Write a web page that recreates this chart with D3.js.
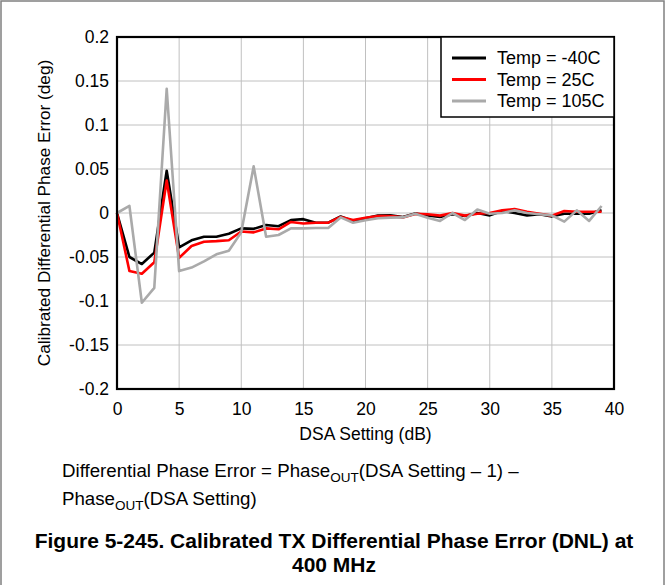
<!DOCTYPE html>
<html><head><meta charset="utf-8">
<script src="https://cdn.jsdelivr.net/npm/d3@7"></script>
<style>body{margin:0;background:#fff}svg{display:block}text{font-family:"Liberation Sans",Arial,sans-serif}</style>
</head><body><svg id="c" width="666" height="585"></svg>
<script>
const dsa = d3.range(0, 40);
const tempM40 = [0,-0.050,-0.058,-0.045,0.048,-0.039,-0.031,-0.027,-0.027,-0.0235,-0.0175,-0.018,-0.0137,-0.015,-0.008,-0.007,-0.011,-0.011,-0.004,-0.009,-0.006,-0.003,-0.0027,-0.0045,-0.0005,-0.0027,-0.0045,-0.0015,-0.0034,0,-0.0027,0.0023,0,-0.0027,-0.0015,-0.0038,-0.0008,-0.0008,-0.0008,0.003];
const temp25 = [0,-0.066,-0.069,-0.056,0.037,-0.051,-0.0375,-0.0326,-0.032,-0.031,-0.021,-0.022,-0.0175,-0.0185,-0.0102,-0.012,-0.011,-0.011,-0.0045,-0.008,-0.0053,-0.0034,-0.0034,-0.005,-0.001,-0.0015,-0.003,0,-0.003,-0.0008,0,0.003,0.0045,0.0015,-0.0008,-0.003,0.0023,0.0015,0.0015,0.0015];
const temp105 = [0,0.008,-0.102,-0.085,0.141,-0.066,-0.062,-0.055,-0.047,-0.043,-0.022,0.053,-0.027,-0.025,-0.0175,-0.0175,-0.017,-0.017,-0.005,-0.011,-0.0083,-0.006,-0.0053,-0.005,-0.0008,-0.0053,-0.009,0,-0.008,0.004,-0.0008,0,0.003,0,-0.0015,-0.0027,-0.0098,0.003,-0.009,0.008];
const series = [
  {name:"Temp = -40C", values: tempM40, color:"#000000"},
  {name:"Temp = 25C", values: temp25, color:"#ff0000"},
  {name:"Temp = 105C", values: temp105, color:"#aaaaaa"}
];
const xTicks = [0,5,10,15,20,25,30,35,40];
const yTicks = [-0.2,-0.15,-0.1,-0.05,0,0.05,0.1,0.15,0.2];

const svg = d3.select("#c");
svg.append("rect").attr("x",1).attr("y",1).attr("width",663).attr("height",600)
  .attr("fill","none").attr("stroke","#808080").attr("stroke-width",1.5);

const L=117, R=614, T=37, B=389;
const x = d3.scaleLinear().domain([0,40]).range([L,R]);
const y = d3.scaleLinear().domain([-0.2,0.2]).range([B,T]);

const g = svg.append("g");
g.selectAll(".vg").data(xTicks).join("line").attr("x1",d=>x(d)).attr("x2",d=>x(d))
  .attr("y1",T).attr("y2",B).attr("stroke","#c0c0c0").attr("stroke-width",1);
g.selectAll(".hg").data(yTicks).join("line").attr("y1",d=>y(d)).attr("y2",d=>y(d))
  .attr("x1",L).attr("x2",R).attr("stroke","#c0c0c0").attr("stroke-width",1);

const xa = svg.append("g").attr("transform",`translate(0,${B})`)
  .call(d3.axisBottom(x).tickValues(xTicks).tickFormat(d3.format("d")).tickSize(0).tickPadding(14));
xa.select(".domain").remove();
xa.selectAll("text").attr("font-size",17.5).attr("fill","#000").attr("font-family","Liberation Sans, Arial, sans-serif");
const ya = svg.append("g").attr("transform",`translate(${L},0)`)
  .call(d3.axisLeft(y).tickValues(yTicks).tickFormat(d=> d===0?"0":String(d)).tickSize(0).tickPadding(8));
ya.select(".domain").remove();
ya.selectAll("text").attr("font-size",17.5).attr("fill","#000").attr("font-family","Liberation Sans, Arial, sans-serif");

const line = d3.line().x((d,i)=>x(dsa[i])).y(d=>y(d));
series.forEach(s=>{
  svg.append("path").datum(s.values).attr("d",line).attr("fill","none")
    .attr("stroke",s.color).attr("stroke-width",2.6).attr("stroke-linejoin","round");
});

svg.append("rect").attr("x",L).attr("y",T).attr("width",R-L).attr("height",B-T)
  .attr("fill","none").attr("stroke","#000").attr("stroke-width",2.2);

const lg = svg.append("g");
lg.append("rect").attr("x",441).attr("y",T).attr("width",R-441).attr("height",80)
  .attr("fill","#fff").attr("stroke","#000").attr("stroke-width",1.5);
series.forEach((s,i)=>{
  const yy = 58 + i*21.5;
  lg.append("line").attr("x1",452).attr("x2",486).attr("y1",yy).attr("y2",yy)
    .attr("stroke",s.color).attr("stroke-width",3);
  lg.append("text").attr("x",497).attr("y",yy+6).attr("font-size",18).text(s.name);
});

svg.append("text").attr("x",(L+R)/2).attr("y",440).attr("text-anchor","middle")
  .attr("font-size",17.5).text("DSA Setting (dB)");
svg.append("text").attr("transform","translate(50,213) rotate(-90)").attr("text-anchor","middle")
  .attr("font-size",17.2).text("Calibrated Differential Phase Error (deg)");

const c1 = svg.append("text").attr("x",62).attr("y",477).attr("font-size",18.7);
c1.append("tspan").text("Differential Phase Error = Phase");
c1.append("tspan").attr("font-size",13.5).attr("dy",5).text("OUT");
c1.append("tspan").attr("dy",-5).text("(DSA Setting \u2013 1) \u2013");
const c2 = svg.append("text").attr("x",62).attr("y",505).attr("font-size",18.7);
c2.append("tspan").text("Phase");
c2.append("tspan").attr("font-size",13.5).attr("dy",5).text("OUT");
c2.append("tspan").attr("dy",-5).text("(DSA Setting)");

svg.append("text").attr("x",334).attr("y",548).attr("text-anchor","middle").attr("font-size",21)
  .attr("font-weight","bold").text("Figure 5-245. Calibrated TX Differential Phase Error (DNL) at");
svg.append("text").attr("x",334).attr("y",572).attr("text-anchor","middle").attr("font-size",21)
  .attr("font-weight","bold").text("400 MHz");
</script></body></html>
